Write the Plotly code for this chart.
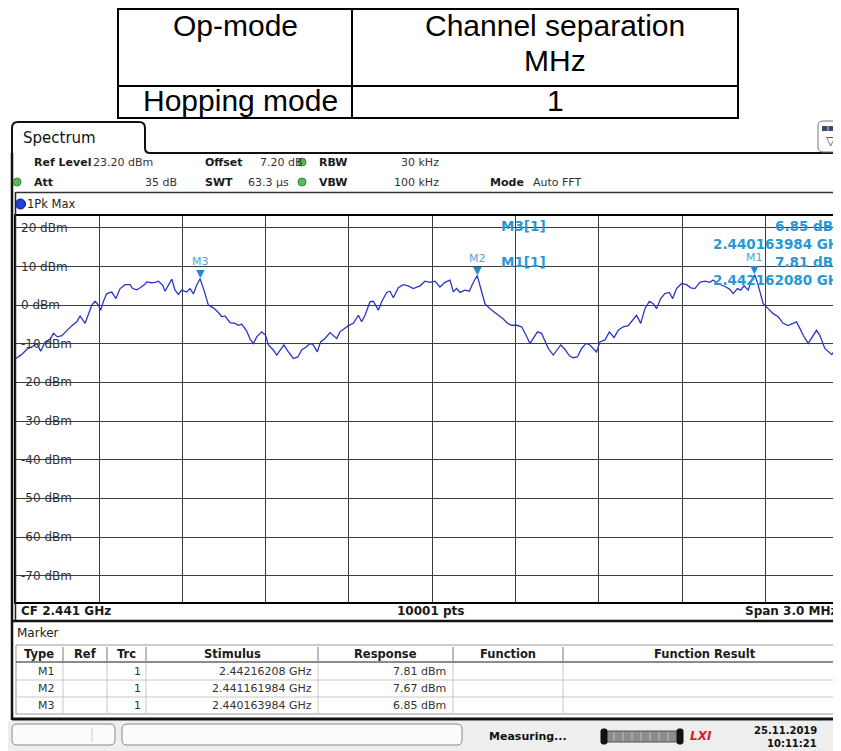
import plotly.graph_objects as go

# page is shown with the browser's default 8 px body margin
SCREEN_W, SCREEN_H = 841, 751
OFF = 8
W, H = SCREEN_W - OFF, SCREEN_H - OFF

# ---------------- data ----------------
freq_mhz = [
    2439.500, 2439.521, 2439.540, 2439.558, 2439.576, 2439.590, 2439.606, 2439.624, 2439.636, 2439.650,
    2439.666, 2439.684, 2439.702, 2439.720, 2439.732, 2439.750, 2439.762, 2439.774, 2439.786, 2439.798,
    2439.806, 2439.816, 2439.828, 2439.846, 2439.861, 2439.876, 2439.894, 2439.912, 2439.921, 2439.936,
    2439.948, 2439.962, 2439.972, 2439.990, 2440.002, 2440.014, 2440.029, 2440.038, 2440.050, 2440.062,
    2440.074, 2440.086, 2440.098, 2440.116, 2440.128, 2440.140, 2440.152, 2440.164, 2440.178, 2440.194,
    2440.212, 2440.230, 2440.242, 2440.254, 2440.272, 2440.290, 2440.302, 2440.314, 2440.332, 2440.344,
    2440.356, 2440.368, 2440.386, 2440.400, 2440.410, 2440.428, 2440.440, 2440.452, 2440.466, 2440.482,
    2440.500, 2440.516, 2440.530, 2440.546, 2440.560, 2440.572, 2440.586, 2440.598, 2440.614, 2440.632,
    2440.644, 2440.656, 2440.668, 2440.686, 2440.698, 2440.716, 2440.734, 2440.746, 2440.758, 2440.776,
    2440.788, 2440.806, 2440.818, 2440.836, 2440.848, 2440.860, 2440.878, 2440.896, 2440.914, 2440.932,
    2440.956, 2440.974, 2440.992, 2441.010, 2441.028, 2441.046, 2441.064, 2441.076, 2441.088, 2441.100,
    2441.118, 2441.134, 2441.146, 2441.162, 2441.178, 2441.190, 2441.208, 2441.226, 2441.244, 2441.256,
    2441.271, 2441.286, 2441.304, 2441.322, 2441.338, 2441.352, 2441.364, 2441.379, 2441.394, 2441.406,
    2441.418, 2441.436, 2441.448, 2441.463, 2441.478, 2441.494, 2441.508, 2441.523, 2441.538, 2441.554,
    2441.568, 2441.580, 2441.592, 2441.604, 2441.622, 2441.638, 2441.655, 2441.670, 2441.688, 2441.706,
    2441.722, 2441.736, 2441.751, 2441.766, 2441.782, 2441.796, 2441.808, 2441.823, 2441.838, 2441.854,
    2441.866, 2441.880, 2441.898, 2441.916, 2441.931, 2441.946, 2441.964, 2441.982, 2442.000, 2442.012,
    2442.028, 2442.042, 2442.058, 2442.072, 2442.084, 2442.099, 2442.111, 2442.123, 2442.138, 2442.150,
    2442.162, 2442.174, 2442.192, 2442.210, 2442.228, 2442.246, 2442.264, 2442.282, 2442.300, 2442.312,
    2442.324, 2442.336, 2442.354, 2442.366, 2442.384, 2442.396, 2442.414, 2442.439, 2442.451, 2442.463,
    2442.472,
]
level_dbm = [
    -13.8, -12.8, -11.4, -10.8, -9.9, -11.9, -9.5, -8.8, -7.3, -8.2,
    -7.9, -6.5, -5.3, -4.3, -2.8, -4.7, -2.6, 0.0, 1.0, 0.0,
    -1.3, 1.0, 3.0, 3.4, 1.7, 4.3, 5.3, 5.3, 4.3, 4.0,
    4.5, 5.2, 6.0, 5.8, 5.9, 6.2, 5.2, 3.6, 5.2, 6.7,
    3.9, 2.8, 3.9, 3.4, 4.3, 2.9, 5.2, 6.85, 3.9, 0.0,
    -0.7, -1.9, -3.0, -2.8, -4.5, -4.7, -5.2, -4.9, -6.7, -8.8,
    -9.9, -8.2, -6.9, -7.8, -10.3, -11.6, -12.9, -11.6, -10.3, -12.1,
    -13.8, -13.4, -11.6, -10.8, -9.9, -10.3, -12.1, -9.5, -8.6, -7.1,
    -7.8, -8.6, -6.9, -6.0, -5.3, -4.7, -2.6, -4.3, -2.6, 0.9,
    1.0, -1.3, 0.9, 3.3, 3.6, 1.9, 4.5, 5.3, 5.0, 4.3,
    5.0, 6.2, 5.9, 6.2, 4.7, 5.9, 6.5, 3.5, 4.3, 3.3,
    3.9, 3.6, 5.6, 7.67, 3.9, 0.4, -0.9, -1.9, -2.8, -3.6,
    -4.7, -5.2, -5.2, -5.6, -7.8, -9.9, -8.6, -6.9, -7.3, -9.5,
    -11.2, -12.9, -11.6, -10.3, -11.4, -13.1, -13.6, -13.4, -11.2, -9.9,
    -10.3, -11.2, -12.1, -9.5, -9.0, -6.9, -8.4, -6.5, -5.6, -5.3,
    -3.9, -2.6, -4.7, -0.9, 1.0, 0.4, -0.9, 1.7, 3.0, 3.3,
    1.7, 4.3, 5.6, 5.3, 4.5, 4.3, 5.9, 6.2, 5.9, 6.5,
    5.6, 5.2, 4.7, 4.1, 3.0, 4.3, 3.9, 5.0, 3.9, 6.5,
    7.81, 5.2, 0.4, -0.9, -2.2, -3.0, -4.7, -5.3, -4.7, -4.3,
    -6.0, -7.8, -9.9, -8.6, -6.5, -7.8, -11.2, -12.8, -11.4, -10.3,
    -10.2,
]

ytick_vals = [20, 10, 0, -10, -20, -30, -40, -50, -60, -70]
ytick_text = ["20 dBm", "10 dBm", "0 dBm", "-10 dBm", "-20 dBm", "-30 dBm",
              "-40 dBm", "-50 dBm", "-60 dBm", "-70 dBm"]

ref_level_dbm = 23.20
cf_ghz = 2.441
span_mhz = 3.0
n_points = 10001

table_head = ["Op-mode", "Channel separation", "MHz"]
table_row = ["Hopping mode", "1"]

hdr_row1 = [("Ref Level", "23.20 dBm"), ("Offset", "7.20 dB"), ("RBW", "30 kHz")]
hdr_row2 = [("Att", "35 dB"), ("SWT", "63.3 µs"), ("VBW", "100 kHz"), ("Mode", "Auto FFT")]

marker_names = ["M1", "M2", "M3"]
marker_stim_ghz = [2.44216208, 2.441161984, 2.440163984]
marker_stim_text = ["2.44216208 GHz", "2.441161984 GHz", "2.440163984 GHz"]
marker_resp_dbm = [7.81, 7.67, 6.85]
marker_trc = ["1", "1", "1"]
marker_cols = ["Type", "Ref", "Trc", "Stimulus", "Response", "Function", "Function Result"]

info_items = [("M3[1]", "6.85 dBm", "2.440163984 GHz"), ("M1[1]", "7.81 dBm", "2.442162080 GHz")]

status_text = "Measuring..."
date_text = "25.11.2019"
time_text = "10:11:21"


# ---------------- helpers (screen pixel -> paper) ----------------
def px(x):
    return (x - OFF) / W


def py(y):
    return 1 - (y - OFF) / H


shapes = []
annos = []
SANS = "DejaVu Sans"
TXT = "#1a1a1a"
MK = "#2a98d6"


def line(x0, y0, x1, y1, color="#000", width=1):
    shapes.append(dict(type="line", xref="paper", yref="paper", x0=px(x0), y0=py(y0),
                       x1=px(x1), y1=py(y1), line=dict(color=color, width=width), layer="above"))


def rect(x0, y0, x1, y1, fill="white", lc=None, lw=0, layer="above"):
    shapes.append(dict(type="rect", xref="paper", yref="paper", x0=px(x0), y0=py(y0),
                       x1=px(x1), y1=py(y1), fillcolor=fill,
                       line=dict(color=lc or fill, width=lw), layer=layer))


def rrect(x0, y0, x1, y1, r, fill="white", lc="#888", lw=1):
    p = (f"M {px(x0 + r)},{py(y0)} L {px(x1 - r)},{py(y0)} Q {px(x1)},{py(y0)} {px(x1)},{py(y0 + r)} "
         f"L {px(x1)},{py(y1 - r)} Q {px(x1)},{py(y1)} {px(x1 - r)},{py(y1)} "
         f"L {px(x0 + r)},{py(y1)} Q {px(x0)},{py(y1)} {px(x0)},{py(y1 - r)} "
         f"L {px(x0)},{py(y0 + r)} Q {px(x0)},{py(y0)} {px(x0 + r)},{py(y0)} Z")
    shapes.append(dict(type="path", xref="paper", yref="paper", path=p, fillcolor=fill,
                       line=dict(color=lc, width=lw), layer="above"))


def dot(cx, cy, r, fill, lc):
    shapes.append(dict(type="circle", xref="paper", yref="paper", x0=px(cx - r), y0=py(cy + r),
                       x1=px(cx + r), y1=py(cy - r), fillcolor=fill, line=dict(color=lc, width=1),
                       layer="above"))


def text(x, y, s, size=12, color=TXT, bold=False, anchor="left", family=SANS, italic=False):
    t = s
    if bold:
        t = f"<b>{t}</b>"
    if italic:
        t = f"<i>{t}</i>"
    annos.append(dict(xref="paper", yref="paper", x=px(x), y=py(y), text=t, showarrow=False,
                      xanchor=anchor, yanchor="middle", borderpad=0,
                      font=dict(family=family, size=size, color=color)))


# ---------------- top table ----------------
TF = "Liberation Sans, Arial, sans-serif"
rect(118, 9, 738, 118, fill="rgba(0,0,0,0)", lc="#000", lw=2)
line(352, 9, 352, 118, "#000", 2)
line(118, 86, 738, 86, "#000", 2)
text(235, 26, table_head[0], 30, "#000", anchor="center", family=TF)
text(555, 26, table_head[1], 30, "#000", anchor="center", family=TF)
text(555, 61, table_head[2], 30, "#000", anchor="center", family=TF)
text(240, 101, table_row[0], 30, "#000", anchor="center", family=TF)
text(555, 101, table_row[1], 30, "#000", anchor="center", family=TF)

# ---------------- window chrome ----------------
tab = (f"M {px(12)},{py(160)} L {px(12)},{py(128)} Q {px(12)},{py(122)} {px(18)},{py(122)} "
       f"L {px(139)},{py(122)} Q {px(145)},{py(122)} {px(145)},{py(128)} "
       f"L {px(145)},{py(148)} Q {px(145)},{py(153)} {px(150)},{py(153)} L {px(841)},{py(153)}")
shapes.append(dict(type="path", xref="paper", yref="paper", path=tab,
                   line=dict(color="#111", width=2), layer="above"))
text(22, 138, "Spectrum", 15, "#111")
# top-right icon
rrect(818, 121, 848, 152, 5, fill="white", lc="#777", lw=1)
rect(822, 126, 841, 131, fill="#3b4b6b")
for xx in (828, 834):
    line(xx, 126, xx, 131, "#ccd", 1)
text(831, 141, "▽", 12, "#333", anchor="center")

# left borders
line(12, 153, 12, 720, "#111", 2.5)
line(15.5, 192, 15.5, 621, "#222", 1.5)

# header parameters
HS = 11
row1_pos = [(33, 92, "left"), (204, 259, "left"), (318, 440, "right")]
for (lab, val), (xl, xv, anc) in zip(hdr_row1, row1_pos):
    text(xl, 162, lab, HS, TXT, bold=True)
    text(xv, 162, val, HS, "#333", anchor=anc)
row2_pos = [(33, 178, "right"), (204, 247, "left"), (318, 440, "right"), (489, 532, "left")]
for (lab, val), (xl, xv, anc) in zip(hdr_row2, row2_pos):
    text(xl, 182, lab, HS, TXT, bold=True)
    text(xv, 182, val, HS, "#333", anchor=anc)
for (cx, cy) in [(302, 162), (302, 182), (17, 182)]:
    dot(cx, cy, 4, "#58b858", "#3a8a3a")
line(15.5, 192.5, 841, 192.5, "#333", 1.5)

# trace label
dot(20.5, 204, 5, "#1f3fd8", "#0a1a70")
text(26, 204, "1Pk Max", 11.5, "#222")

# footer of diagram
text(20, 611, f"CF {cf_ghz:.3f} GHz", 12, TXT, bold=True)
text(430, 611, f"{n_points} pts", 12, TXT, bold=True, anchor="center")
text(838, 611, f"Span {span_mhz:.1f} MHz", 12, TXT, bold=True, anchor="right")
line(12, 621, 841, 621, "#111", 2.5)

# ---------------- marker table ----------------
text(16, 633, "Marker", 12, "#222")
col_x = [16, 63, 107, 146, 318, 453, 563, 841]
rect(16, 645, 845, 714, fill="white", lc="#999", lw=1)
line(16, 662, 841, 662, "#666", 1.5)
for yy in (680, 697):
    line(16, yy, 841, yy, "#c8c8c8", 1)
for xx in col_x[1:-1]:
    line(xx, 647, xx, 661, "#777", 1)
    line(xx, 663, xx, 714, "#c8c8c8", 1)
for i, name in enumerate(marker_cols):
    cx = (col_x[i] + col_x[i + 1]) / 2
    if name == "Function Result":
        cx = 705
    text(cx, 654, name, 11.5, TXT, bold=True, anchor="center")
for r, (nm, trc, st, rs) in enumerate(zip(marker_names, marker_trc, marker_stim_text, marker_resp_dbm)):
    yy = 671 + r * 17
    text(56, yy, nm, 11, "#333", anchor="right")
    text(142, yy, trc, 11, "#333", anchor="right")
    text(313, yy, st, 11, "#333", anchor="right")
    text(447, yy, f"{rs:.2f} dBm", 11, "#333", anchor="right")

line(12, 719, 841, 719, "#111", 3)

# ---------------- status bar ----------------
rect(0, 721, 845, 755, fill="#eeeeee", layer="below")
rrect(12, 724, 115, 745, 5, fill="#fbfbfb", lc="#888", lw=1)
line(92, 728, 92, 742, "#cfcfcf", 1)
rrect(122, 724, 462, 745, 5, fill="#fbfbfb", lc="#888", lw=1)
text(488, 736, status_text, 11, "#111", bold=True)
rect(604, 731, 680, 742, fill="#8c8c8c", lc="#555", lw=1)
for xx in range(614, 676, 9):
    line(xx, 732, xx, 741, "#c0c0c0", 1)
rrect(601, 729, 607, 744, 2, fill="#111", lc="#111", lw=1)
rrect(677, 729, 683, 744, 2, fill="#111", lc="#111", lw=1)
text(701, 736, "LXI", 12, "#d42030", bold=True, italic=True, anchor="center")
text(818, 730, date_text, 10, "#111", bold=True, anchor="right")
text(818, 743, time_text, 10, "#111", bold=True, anchor="right")
line(834, 750, 840, 744, "#999", 1)
line(838, 750, 841, 747, "#999", 1)

# ---------------- diagram ----------------
x_left_px = 15.7
div_px = 83.3
n_div = 10
f_start = cf_ghz * 1000 - span_mhz / 2
x_range = [f_start, f_start + span_mhz * (SCREEN_W - x_left_px) / (n_div * div_px)]
y_range = [ref_level_dbm - 100, ref_level_dbm]

# masks between gridlines and trace: y labels and marker-info field
cw = {"-": 0.361, " ": 0.318, "d": 0.635, "B": 0.686, "m": 0.974}
for v, lab in zip(ytick_vals, ytick_text):
    wpx = sum(cw.get(c, 0.636) for c in lab) * 12
    shapes.append(dict(type="rect", xref="paper", yref="y", x0=px(16.5), x1=px(20 + wpx + 2),
                       y0=v - 1.6, y1=v + 1.6, fillcolor="white", line=dict(width=0),
                       layer="between"))
    annos.append(dict(xref="paper", yref="y", x=px(20), y=v, text=lab, showarrow=False,
                      xanchor="left", yanchor="middle", borderpad=0,
                      font=dict(family=SANS, size=12, color="#333")))
shapes.append(dict(type="rect", xref="paper", yref="paper", x0=px(497), x1=1.0,
                   y0=py(288), y1=py(216.5), fillcolor="white", line=dict(width=0),
                   layer="between"))

# marker info field
for k, (mname, lvl, frq) in enumerate(info_items):
    y0 = 226 + k * 36
    text(500, y0, mname, 13.5, MK, bold=True)
    text(848, y0, lvl, 13.5, MK, bold=True, anchor="right")
    text(848, y0 + 18, frq, 13.5, MK, bold=True, anchor="right")

# markers on trace
for nm, fg, lv in zip(marker_names, marker_stim_ghz, marker_resp_dbm):
    annos.append(dict(xref="x", yref="y", x=fg * 1000, y=lv, text="▼", showarrow=False,
                      xanchor="center", yanchor="middle", yshift=5, borderpad=0,
                      font=dict(family=SANS, size=11, color="#1d8ad4")))
    annos.append(dict(xref="x", yref="y", x=fg * 1000, y=lv, text=nm, showarrow=False,
                      xanchor="center", yanchor="middle", yshift=17, borderpad=0,
                      font=dict(family=SANS, size=11, color="#4aa6dc")))

fig = go.Figure()
fig.add_trace(go.Scatter(x=freq_mhz, y=level_dbm, mode="lines",
                         line=dict(color="#2a36c4", width=1.3),
                         hoverinfo="skip", showlegend=False))

fig.update_layout(
    width=W, height=H, autosize=False,
    margin=dict(l=0, r=0, t=0, b=0, pad=0),
    paper_bgcolor="white", plot_bgcolor="white",
    showlegend=False,
    xaxis=dict(domain=[px(x_left_px), 1.0], range=x_range, tick0=f_start, dtick=span_mhz / n_div,
               showticklabels=False, ticks="", showgrid=True, gridcolor="#3c3c3c", gridwidth=1,
               zeroline=False, showline=True, mirror=True, linecolor="#000", linewidth=1.5,
               fixedrange=True),
    yaxis=dict(domain=[py(602), py(215.5)], range=y_range, tickvals=ytick_vals,
               showticklabels=False, ticks="", showgrid=True, gridcolor="#3c3c3c", gridwidth=1,
               zeroline=False, showline=True, linecolor="#000", linewidth=1.5, fixedrange=True),
    shapes=shapes,
    annotations=annos,
)

fig.write_html("out.html", config={"displayModeBar": False})
